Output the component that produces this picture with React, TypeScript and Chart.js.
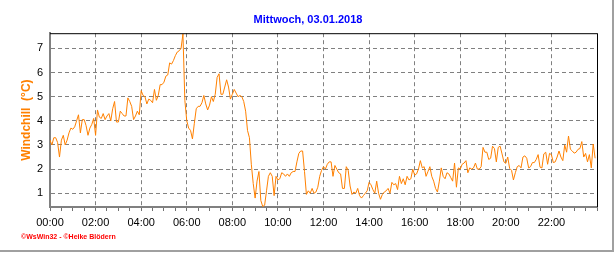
import React, { useEffect, useRef } from 'react';
import { Chart, registerables } from 'chart.js';

Chart.register(...registerables);

const TITLE = 'Mittwoch, 03.01.2018';
const Y_LABEL = 'Windchill  (°C)';
const CREDIT = '\u00A9WsWin32 - \u00A9Heike Blödern';
const TICK_LABELS = ['00:00', '02:00', '04:00', '06:00', '08:00', '10:00', '12:00', '14:00', '16:00', '18:00', '20:00', '22:00'];
const Y_TICKS = [1, 2, 3, 4, 5, 6, 7];
const STEP_MIN = 5; // one reading every 5 minutes

// Windchill readings (°C), 12 per hour
const h00 = [3.2, 3.0, 3.3, 3.3, 3.1, 2.5, 3.2, 3.4, 3.0, 3.2, 3.5, 3.7];
const h01 = [3.65, 3.75, 4.0, 4.25, 3.5, 4.05, 4.05, 3.8, 3.4, 3.7, 3.85, 4.1];
const h02 = [3.4, 4.45, 4.15, 4.1, 4.3, 4.05, 4.2, 4.3, 4.0, 4.5, 4.8, 3.95];
const h03 = [3.95, 4.4, 4.3, 4.2, 4.2, 4.95, 4.8, 4.6, 4.05, 4.2, 4.4, 4.25];
const h04 = [5.25, 5.05, 5.0, 4.7, 4.9, 4.85, 4.75, 5.3, 4.85, 5.05, 5.5, 5.5];
const h05 = [5.6, 5.85, 5.9, 6.4, 6.35, 6.5, 6.7, 6.85, 6.9, 7.0, 7.6, 4.85];
const h06 = [4.0, 3.7, 3.6, 3.25, 3.9, 4.5, 4.6, 4.6, 4.75, 5.05, 4.7, 4.45];
const h07 = [4.65, 5.0, 4.8, 5.1, 5.8, 5.95, 5.1, 5.1, 5.4, 5.7, 5.4, 4.9];
const h08 = [5.1, 5.3, 5.15, 5.0, 5.05, 5.0, 4.8, 4.4, 3.6, 3.3, 2.2, 1.4];
const h09 = [0.8, 1.5, 1.9, 0.7, 0.45, 0.5, 1.1, 1.7, 1.85, 1.7, 0.9, 1.7];
const h10 = [1.55, 1.6, 1.85, 1.8, 1.7, 1.8, 1.7, 1.85, 1.9, 1.9, 2.3, 2.65];
const h11 = [2.75, 2.75, 1.9, 0.95, 1.1, 1.0, 1.2, 1.0, 1.05, 1.25, 1.7, 1.95];
const h12 = [2.1, 2.0, 2.2, 2.3, 2.3, 1.7, 2.15, 2.0, 1.85, 1.8, 1.2, 1.2];
const h13 = [2.1, 1.95, 1.3, 0.95, 1.05, 1.0, 1.2, 0.9, 0.8, 0.9, 1.0, 1.1];
const h14 = [1.45, 1.35, 1.15, 1.0, 1.5, 1.0, 0.75, 0.95, 1.05, 1.1, 1.2, 1.0];
const h15 = [1.45, 1.35, 1.4, 1.15, 1.7, 1.4, 1.6, 1.35, 1.7, 1.55, 1.6, 2.0];
const h16 = [1.75, 1.8, 2.0, 2.35, 2.05, 2.1, 1.7, 1.9, 2.1, 1.7, 1.5, 1.2];
const h17 = [1.05, 1.5, 2.05, 1.7, 1.6, 1.85, 1.8, 1.65, 1.5, 2.25, 1.25, 2.05];
const h18 = [2.0, 2.2, 2.25, 2.35, 1.85, 2.05, 2.0, 2.05, 2.25, 2.0, 2.0, 2.1];
const h19 = [2.9, 2.7, 2.7, 2.4, 2.45, 2.95, 2.85, 2.3, 2.9, 2.95, 2.63, 2.3];
const h20 = [2.24, 2.5, 2.03, 1.95, 1.55, 1.85, 2.1, 2.15, 2.05, 2.5, 2.55, 2.45];
const h21 = [2.05, 2.1, 2.27, 2.27, 2.4, 2.6, 2.08, 2.05, 2.63, 2.7, 2.2, 2.65];
const h22 = [2.6, 2.27, 2.3, 2.5, 2.75, 2.5, 2.35, 3.0, 2.7, 3.37, 2.82, 2.75];
const h23 = [2.66, 2.7, 2.82, 2.85, 3.14, 2.5, 2.65, 2.3, 2.6, 2.05, 3.04, 2.45];

const windchill = [
  ...h00, ...h01, ...h02, ...h03, ...h04, ...h05, ...h06, ...h07,
  ...h08, ...h09, ...h10, ...h11, ...h12, ...h13, ...h14, ...h15,
  ...h16, ...h17, ...h18, ...h19, ...h20, ...h21, ...h22, ...h23,
];

const FONT = '"Liberation Sans", Arial, sans-serif';

export default function App() {
  const ref = useRef<HTMLCanvasElement>(null);

  useEffect(() => {
    const canvas = ref.current;
    if (!canvas) return;
    const points = windchill.map((v, i) => ({ x: i * STEP_MIN, y: v }));

    const framePlugin = {
      id: 'frame',
      beforeDraw(chart: any) {
        const ctx = chart.ctx;
        ctx.save();
        ctx.fillStyle = '#ffffff';
        ctx.fillRect(0, 0, chart.width, chart.height);
        ctx.restore();
      },
      afterDraw(chart: any) {
        const ctx = chart.ctx;
        const a = chart.chartArea;
        ctx.save();
        ctx.strokeStyle = '#000000';
        ctx.lineWidth = 1;
        ctx.beginPath();
        ctx.moveTo(a.left, a.top + 0.5);
        ctx.lineTo(a.right + 0.5, a.top + 0.5);
        ctx.lineTo(a.right + 0.5, a.bottom);
        ctx.stroke();
        // outer frame (right and bottom)
        ctx.strokeStyle = '#a0a0a0';
        ctx.lineWidth = 2;
        ctx.beginPath();
        ctx.moveTo(613, 0);
        ctx.lineTo(613, 251);
        ctx.lineTo(0, 251);
        ctx.stroke();
        // credit
        ctx.fillStyle = '#ff0000';
        ctx.font = 'bold 7px ' + FONT;
        ctx.textBaseline = 'middle';
        ctx.textAlign = 'left';
        ctx.fillText(CREDIT, 21, 237);
        ctx.restore();
      },
    };

    const chart = new Chart(canvas, {
      type: 'line',
      data: {
        datasets: [
          {
            data: points,
            borderColor: '#ff8000',
            borderWidth: 1,
            pointRadius: 0,
            tension: 0,
            fill: false,
          },
        ],
      },
      options: {
        animation: false,
        responsive: false,
        devicePixelRatio: 1,
        layout: { padding: 0 },
        plugins: {
          legend: { display: false },
          tooltip: { enabled: false },
          title: {
            display: true,
            text: TITLE,
            color: '#0000ff',
            font: { family: FONT, size: 11, weight: 'bold' },
            padding: { top: 13, bottom: 7 },
          },
        },
        scales: {
          x: {
            type: 'linear',
            min: 0,
            max: 1440,
            afterFit: (s: any) => { s.height = 46; },
            ticks: {
              stepSize: 30,
              autoSkip: false,
              maxRotation: 0,
              includeBounds: false,
              color: '#000000',
              font: { family: FONT, size: 11 },
              padding: 5,
              callback: (v: any) => {
                const n = Number(v);
                return n % 120 === 0 && n < 1440 ? TICK_LABELS[n / 120] : '';
              },
            },
            grid: {
              color: (c: any) => (c.tick && c.tick.value % 120 === 0 ? '#808080' : 'rgba(0,0,0,0)'),
              tickColor: '#707070',
              tickLength: 4,
              lineWidth: 1,
            },
            border: { color: '#808080', width: 2, dash: [4, 3] },
          },
          y: {
            type: 'linear',
            min: 0.43,
            max: 7.63,
            bounds: 'data',
            afterFit: (s: any) => { s.width = 50; },
            afterBuildTicks: (s: any) => { s.ticks = Y_TICKS.map((v) => ({ value: v })); },
            ticks: {
              stepSize: 1,
              includeBounds: false,
              color: '#000000',
              font: { family: FONT, size: 11 },
              padding: 7,
            },
            grid: { color: '#808080', drawTicks: false, lineWidth: 1 },
            border: { color: '#808080', width: 2, dash: [4, 3] },
            title: {
              display: true,
              text: Y_LABEL,
              color: '#ff8000',
              font: { family: FONT, size: 12, weight: 'bold' },
              padding: { top: 19, bottom: 0 },
            },
          },
          pad: {
            type: 'linear',
            position: 'right',
            display: true,
            afterFit: (s: any) => { s.width = 19; },
            ticks: { display: false },
            grid: { display: false, drawTicks: false },
            border: { display: false },
          },
        },
      } as any,
      plugins: [framePlugin],
    });

    return () => chart.destroy();
  }, []);

  return (
    <div style={{ position: 'fixed', left: 0, top: 0, width: 616, height: 253, background: '#ffffff' }}>
      <canvas ref={ref} width={616} height={253} style={{ display: 'block', width: 616, height: 253 }} />
    </div>
  );
}
